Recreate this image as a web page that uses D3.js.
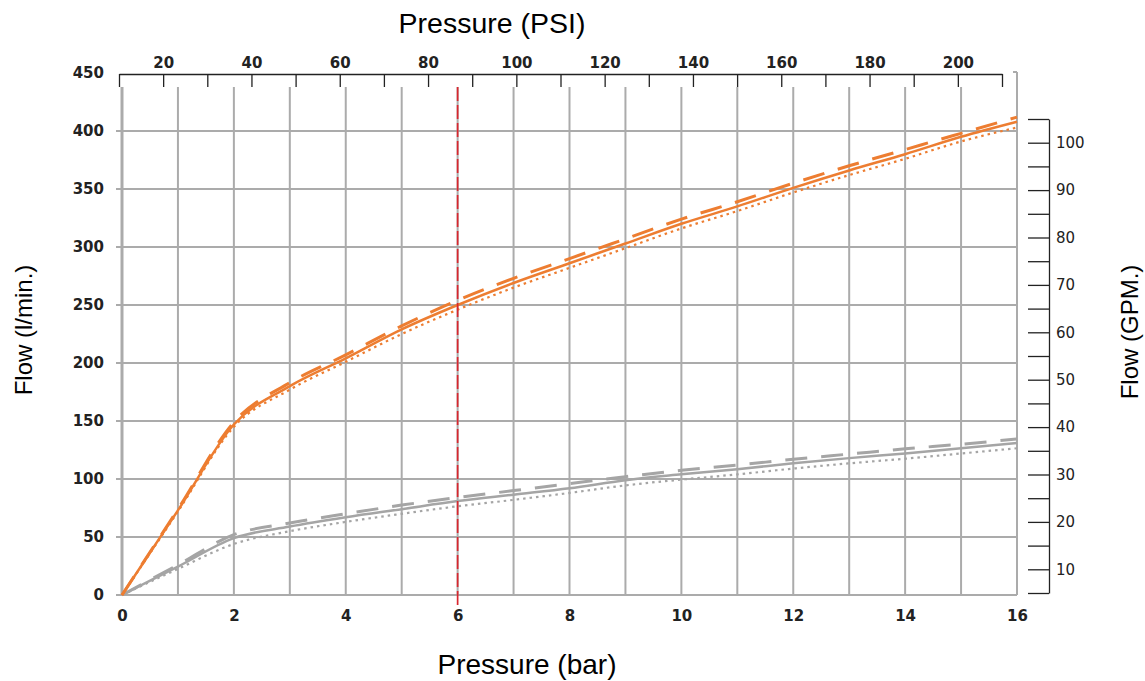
<!DOCTYPE html>
<html>
<head>
<meta charset="utf-8">
<script src="https://cdn.jsdelivr.net/npm/d3@7"></script>
<style>
  body { margin: 0; background: #fff; }
  svg { display: block; }
</style>
</head>
<body>
<svg id="chart"></svg>
<script>
const width = 1145;
const height = 681;

// data (flow in l/min at each bar value)
const pressureBar = [0, 1, 2, 3, 4, 5, 6, 7, 8, 9, 10, 11, 12, 13, 14, 15, 16];
const orangeSolid = [0, 73, 147, 180, 204, 229, 250, 269, 286, 303, 320, 335, 351, 366, 380, 395, 408];
const orangeDashed = [0, 74, 149, 183, 207, 232, 254, 273, 290, 307, 324, 339, 355, 370, 384, 398, 412];
const orangeDotted = [0, 72, 145, 177, 201, 225, 246, 265, 282, 299, 316, 331, 347, 362, 376, 391, 403];
const graySolid = [0, 24.5, 49, 59, 67, 74, 81, 86.5, 92, 99, 104, 108.5, 113.5, 118, 122, 126.5, 131];
const grayDashed = [0, 26, 52, 62, 70, 77.5, 84, 90, 96, 102, 107.5, 112, 117, 121.5, 126, 130, 134.5];
const grayDotted = [0, 22.5, 44, 55, 63, 70, 76.5, 82, 88, 94.5, 99.5, 104, 109, 113.5, 117.5, 122, 126.5];
const markerBar = 6;

// tick values
const leftTicks = [0, 50, 100, 150, 200, 250, 300, 350, 400, 450];
const gridY = [0, 50, 100, 150, 200, 250, 300, 350, 400];
const bottomTicks = [0, 2, 4, 6, 8, 10, 12, 14, 16];
const topTicks = [10, 20, 30, 40, 50, 60, 70, 80, 90, 100, 110, 120, 130, 140, 150, 160, 170, 180, 190, 200, 210];
const rightTicks = [5, 10, 15, 20, 25, 30, 35, 40, 45, 50, 55, 60, 65, 70, 75, 80, 85, 90, 95, 100, 105];

const orange = "#ED7D31";
const gray = "#A5A5A5";
const gridColor = "#ABABAB";
const textColor = "#222";

const svg = d3.select("#chart").attr("width", width).attr("height", height);

// scales
const x = d3.scaleLinear().domain([0, 16]).range([122, 1017]);
const y = d3.scaleLinear().domain([0, 450]).range([595, 73]);
const xPsi = d3.scaleLinear().domain([10, 210]).range([119, 1002]);
const yGpm = d3.scaleLinear().domain([5, 105]).range([593, 119]);

const plotTop = 87;

// vertical gridlines
svg.append("g")
  .selectAll("line")
  .data(pressureBar)
  .join("line")
  .attr("x1", d => x(d))
  .attr("x2", d => x(d))
  .attr("y1", d => d === 16 ? 72 : plotTop)
  .attr("y2", y(0))
  .attr("stroke", gridColor)
  .attr("stroke-width", d => d === 0 ? 3 : 2);

// horizontal gridlines
svg.append("g")
  .selectAll("line")
  .data(gridY)
  .join("line")
  .attr("x1", x(0) - 6)
  .attr("x2", x(16))
  .attr("y1", d => y(d))
  .attr("y2", d => y(d))
  .attr("stroke", gridColor)
  .attr("stroke-width", 2.2);

// small hook at top right corner
svg.append("line")
  .attr("x1", x(16) - 4).attr("x2", x(16))
  .attr("y1", 72).attr("y2", 72)
  .attr("stroke", gridColor).attr("stroke-width", 2);

// left axis labels
const yAxis = svg.append("g")
  .attr("transform", `translate(${x(0) - 10}, 0)`)
  .call(d3.axisLeft(y).tickValues(leftTicks).tickSize(0).tickPadding(8));
yAxis.select(".domain").remove();
yAxis.selectAll("text")
  .attr("font-family", "DejaVu Sans")
  .attr("font-weight", "bold")
  .attr("font-size", "15px")
  .attr("fill", textColor);

// bottom axis labels
const xAxis = svg.append("g")
  .attr("transform", `translate(0, ${y(0) + 10})`)
  .call(d3.axisBottom(x).tickValues(bottomTicks).tickSize(0).tickPadding(5));
xAxis.select(".domain").remove();
xAxis.selectAll("text")
  .attr("font-family", "DejaVu Sans")
  .attr("font-weight", "bold")
  .attr("font-size", "15px")
  .attr("fill", textColor);

// top axis (PSI)
const topAxis = svg.append("g")
  .attr("transform", "translate(0, 74)")
  .call(d3.axisTop(xPsi)
    .tickValues(topTicks)
    .tickSizeInner(-13)
    .tickSizeOuter(0)
    .tickPadding(6)
    .tickFormat(d => d % 20 === 0 ? d : ""));
topAxis.selectAll("line, path").attr("stroke", "#222").attr("stroke-width", 1.3);
topAxis.selectAll("text")
  .attr("font-family", "DejaVu Sans")
  .attr("font-weight", "bold")
  .attr("font-size", "15px")
  .attr("fill", textColor);

// right axis (GPM)
const rightAxis = svg.append("g")
  .attr("transform", "translate(1049, 0)")
  .call(d3.axisRight(yGpm)
    .tickValues(rightTicks)
    .tickSizeInner(-21)
    .tickSizeOuter(0)
    .tickPadding(7)
    .tickFormat(d => d % 10 === 0 ? d : ""));
rightAxis.selectAll("line, path").attr("stroke", "#222").attr("stroke-width", 1.3);
rightAxis.selectAll("text")
  .attr("font-family", "DejaVu Sans")
  .attr("font-size", "15px")
  .attr("fill", textColor);

// curves
const line = d3.line()
  .x((d, i) => x(pressureBar[i]))
  .y(d => y(d))
  .curve(d3.curveMonotoneX);

const series = [
  { values: grayDotted, color: gray, dash: "2.5,4", w: 2.2 },
  { values: grayDashed, color: gray, dash: "22,14", w: 3 },
  { values: graySolid, color: gray, dash: null, w: 2.5 },
  { values: orangeDotted, color: orange, dash: "2.5,4", w: 2.2 },
  { values: orangeDashed, color: orange, dash: "22,14", w: 3 },
  { values: orangeSolid, color: orange, dash: null, w: 2.5 },
];

svg.append("g")
  .selectAll("path")
  .data(series)
  .join("path")
  .attr("d", d => line(d.values))
  .attr("fill", "none")
  .attr("stroke", d => d.color)
  .attr("stroke-width", d => d.w)
  .attr("stroke-dasharray", d => d.dash);

// red marker at 6 bar
svg.append("line")
  .attr("x1", x(markerBar))
  .attr("x2", x(markerBar))
  .attr("y1", plotTop)
  .attr("y2", y(0) + 11)
  .attr("stroke", "#D9262E")
  .attr("stroke-width", 1.7)
  .attr("stroke-dasharray", "14,4");

// axis titles
svg.append("text")
  .attr("x", 492)
  .attr("y", 33)
  .attr("text-anchor", "middle")
  .attr("font-family", "Liberation Sans, Arial")
  .attr("font-size", "28.5px")
  .text("Pressure (PSI)");

svg.append("text")
  .attr("x", 527)
  .attr("y", 674)
  .attr("text-anchor", "middle")
  .attr("font-family", "Liberation Sans, Arial")
  .attr("font-size", "28px")
  .text("Pressure (bar)");

svg.append("text")
  .attr("transform", "translate(32, 330) rotate(-90)")
  .attr("text-anchor", "middle")
  .attr("font-family", "Liberation Sans, Arial")
  .attr("font-size", "24px")
  .text("Flow (l/min.)");

svg.append("text")
  .attr("transform", "translate(1138, 332) rotate(-90)")
  .attr("text-anchor", "middle")
  .attr("font-family", "Liberation Sans, Arial")
  .attr("font-size", "24px")
  .text("Flow (GPM.)");
</script>
</body>
</html>
